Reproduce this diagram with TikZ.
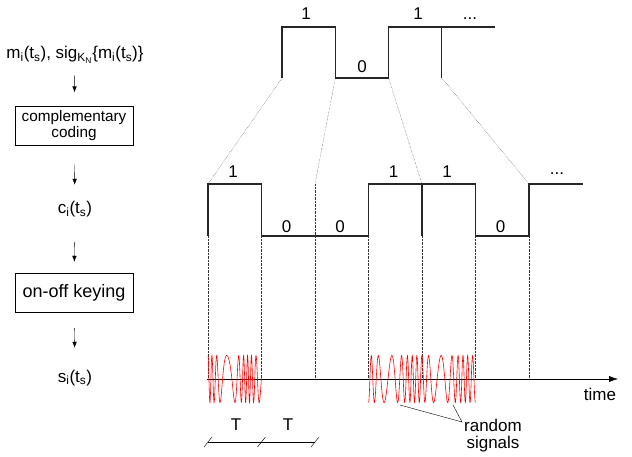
\documentclass[tikz,border=0pt]{standalone}
\usepackage{fontspec}
\setmainfont{Liberation Sans}
\usetikzlibrary{arrows.meta}

\tikzset{
    lbl/.style={font=\fontsize{17}{20}\selectfont, inner sep=1pt},
    txt/.style={lbl, text height=12pt, text depth=4pt, inner sep=2pt},
    blockbox/.style={draw, thin, align=center, minimum width=118pt, minimum height=39pt},
    flow/.style={-{Latex[length=6pt,width=4.5pt]}, thin},
    sig/.style={line width=1.1pt, black!85},
    guide/.style={densely dotted, thin, black!80},
    rnd/.style={red, line width=0.6pt},
}

\begin{document}
\begin{tikzpicture}[x=1pt,y=-1pt]
    \useasboundingbox (0,0) rectangle (632,457);
    %
    % Independent parameters
    \def\xTop{282}      % first edge, upper signal
    \def\Ttop{53.3}     % bit length, upper signal
    \def\xMid{208}      % first edge, coded signal
    \def\T{53.5}        % bit length, coded signal
    \def\yAxis{379}     % time axis
    \def\amp{23.5}      % amplitude of random signals
    %
    % block chain on the left
    \node[txt] (msg) at (75,55)
        {m\textsubscript{i}(t\textsubscript{s}), sig\textsubscript{K\textsubscript{N}}\{m\textsubscript{i}(t\textsubscript{s})\}};
    \node[blockbox, font=\fontsize{15.3}{17}\selectfont] (cc) at (74,126)
        {complementary\\[-1pt]coding};
    \node[txt] (ci) at (75,210) {c\textsubscript{i}(t\textsubscript{s})};
    \node[blockbox, font=\fontsize{18}{20}\selectfont] (ook) at (74,292.5) {on-off keying};
    \node[txt] (si) at (75,378) {s\textsubscript{i}(t\textsubscript{s})};
    %
    \draw[flow, shorten <=10pt, shorten >=14pt] (msg) -- (cc);
    \draw[flow, shorten <=19pt, shorten >=15pt] (cc) -- (ci);
    \draw[flow, shorten <=22pt, shorten >=11pt] (ci) -- (ook);
    \draw[flow, shorten <=16pt, shorten >=20pt] (ook) -- (si);
    %
    % upper signal m_i
    \draw[sig] (\xTop,78) -- (\xTop,27) -- (\xTop+\Ttop,27) -- (\xTop+\Ttop,78)
        -- (\xTop+2*\Ttop,78) -- (\xTop+2*\Ttop,27) -- (\xTop+4*\Ttop,27);
    \draw[sig] (\xTop+3*\Ttop,27) -- (\xTop+3*\Ttop,78);
    \node[lbl] (tb1) at (306,14) {1};
    \node[lbl] (tb2) at (362,67) {0};
    \node[lbl] (tb3) at (418,14) {1};
    \node[lbl] (tb4) at (470,19) {...};
    %
    % coded signal c_i
    \draw[sig] (\xMid,236) -- (\xMid,184) -- (\xMid+\T,184) -- (\xMid+\T,236)
        -- (\xMid+3*\T,236) -- (\xMid+3*\T,184) -- (\xMid+5*\T,184)
        -- (\xMid+5*\T,236) -- (\xMid+6*\T,236) -- (\xMid+6*\T,184) -- (\xMid+7*\T,184);
    \draw[sig] (\xMid+4*\T,184) -- (\xMid+4*\T,236);
    \foreach \k/\bit in {0/1,1/0,2/0,3/1,4/1,5/0}
    {
        \pgfmathsetmacro\yb{\bit==1 ? 172 : 227}
        \node[lbl] (mb\k) at (\xMid+\k*\T+25,\yb) {\bit};
    }
    \node[lbl] (mb6) at (557,174) {...};
    %
    % guides from upper to coded signal
    \foreach \k in {0,...,3}
        \draw[guide] (\xTop+\k*\Ttop,78) -- (\xMid+2*\k*\T,184);
    \draw[guide] (\xMid+2*\T,184) -- (\xMid+2*\T,236);
    \foreach \k in {0,...,6}
        \draw[guide] (\xMid+\k*\T,236) -- (\xMid+\k*\T,\yAxis);
    %
    % time axis
    \draw[thin, -{Latex[length=9pt,width=6pt]}] (\xMid-1,\yAxis) -- (618,\yAxis);
    \node[lbl] (time) at (600,394) {time};
    %
    % random signals
    \draw[rnd] plot[domain=\xMid:\xMid+\T, samples=300]
        (\x,{\yAxis-\amp*sin(90+55*(\x-\xMid)+250*sin(9*(\x-\xMid)))});
    \draw[rnd] plot[domain=\xMid+3*\T:\xMid+5*\T, samples=600]
        (\x,{\yAxis-\amp*sin(50*(\x-\xMid)+230*sin(7*(\x-\xMid)))});
    \node[lbl, align=center] (rs) at (493,436) {random\\[-3pt]signals};
    \coordinate (rsp) at (462,422);
    \coordinate (rs1) at (400,405);
    \coordinate (rs2) at (453,405);
    \draw[thin] (rs1) -- (rsp) -- (rs2);
    %
    % bit periods
    \draw[thin] (\xMid,442) -- (\xMid+2*\T,442);
    \foreach \k in {0,1,2}
        \draw[thin] (\xMid+\k*\T-4,447) -- (\xMid+\k*\T+4,437);
    \node[lbl] (T1) at (236,425) {T};
    \node[lbl] (T2) at (288,425) {T};
\end{tikzpicture}
\end{document}
